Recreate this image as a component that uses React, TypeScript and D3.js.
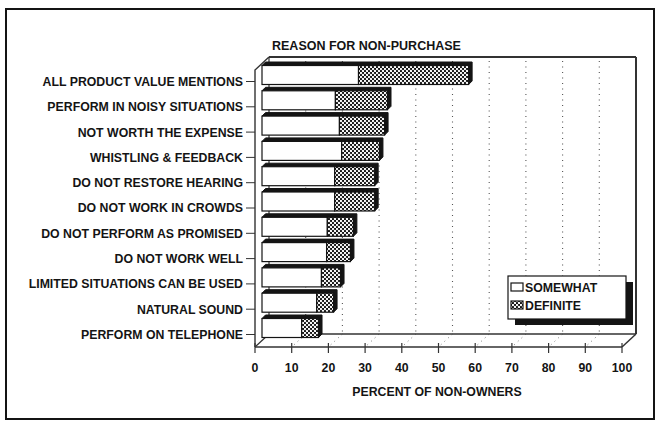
import React from "react";
import * as d3 from "d3";

const categories = [
  "ALL PRODUCT VALUE MENTIONS",
  "PERFORM IN NOISY SITUATIONS",
  "NOT WORTH THE EXPENSE",
  "WHISTLING & FEEDBACK",
  "DO NOT RESTORE HEARING",
  "DO NOT WORK IN CROWDS",
  "DO NOT PERFORM AS PROMISED",
  "DO NOT WORK WELL",
  "LIMITED SITUATIONS CAN BE USED",
  "NATURAL SOUND",
  "PERFORM ON TELEPHONE",
];
const somewhat = [26.3, 20, 21.1, 21.7, 19.8, 19.8, 17.8, 17.6, 16.2, 14.9, 10.8];
const definite = [30, 14.2, 12.3, 10.3, 10.9, 10.9, 7.1, 6.5, 5.2, 4.6, 4.6];
const xTicks = [0, 10, 20, 30, 40, 50, 60, 70, 80, 90, 100];
const seriesNames = ["SOMEWHAT", "DEFINITE"];
const title = "REASON FOR NON-PURCHASE";
const xTitle = "PERCENT OF NON-OWNERS";

const W = 657;
const H = 421;
const FONT = "'Liberation Sans', Arial, Helvetica, sans-serif";
const FS = 12.3;
const INK = "#141414";

export default function App() {
  const x = d3.scaleLinear().domain([0, 100]).range([255, 622]);
  const y = d3.scalePoint<string>().domain(categories).range([81.5, 334.5]);
  const floorY = 347;
  const DX = 14;
  const DY = -13;
  const backTop = 57;
  const backBottom = floorY + DY;
  const bdx = DX / 2;
  const bdy = DY / 2;
  const barH = 19;
  const ext = 3.5;

  const back0 = x(0) + DX;
  const back100 = x(100) + DX;

  const bars = categories.map((c, i) => {
    const cy = (y(c) as number) + bdy;
    const y0 = cy - barH / 2;
    const xs = x(0) + bdx;
    const xm = x(somewhat[i]) + bdx;
    const xe = x(somewhat[i] + definite[i]) + bdx;
    return { c, y0, xs, xm, xe };
  });

  return (
    <svg
      width={W}
      height={H}
      viewBox={`0 0 ${W} ${H}`}
      style={{ position: "absolute", left: 0, top: 0, background: "#fff" }}
    >
      <defs>
        <pattern id="chk" width={4} height={4} patternUnits="userSpaceOnUse">
          <rect width={4} height={4} fill={INK} />
          <circle cx={1} cy={1} r={1.15} fill="#fff" />
          <circle cx={3} cy={3} r={1.15} fill="#fff" />
        </pattern>
      </defs>

      {/* outer frame */}
      <rect x={6} y={9} width={648} height={410} fill="none" stroke={INK} strokeWidth={2} />

      {/* title */}
      <text x={272} y={50} fontFamily={FONT} fontSize={12.5} fontWeight="bold" fill={INK}>
        {title}
      </text>

      {/* back plane gridlines */}
      {xTicks.slice(1, -1).map((t) => (
        <line
          key={"g" + t}
          x1={x(t) + DX}
          x2={x(t) + DX}
          y1={backTop + 4}
          y2={backBottom}
          stroke="#555"
          strokeWidth={1.1}
          strokeDasharray="1,4.5"
        />
      ))}
      {/* floor dotted lines */}
      {xTicks.slice(1, -1).map((t) => (
        <line
          key={"f" + t}
          x1={x(t) + DX}
          x2={x(t)}
          y1={backBottom}
          y2={floorY}
          stroke="#777"
          strokeWidth={1}
          strokeDasharray="1,4"
        />
      ))}

      {/* back plane edges */}
      <line x1={back0} x2={back100} y1={backTop} y2={backTop} stroke="#333" strokeWidth={1.8} />
      <line x1={back100} x2={back100} y1={backTop} y2={backBottom} stroke="#333" strokeWidth={2} />
      <line x1={back0} x2={back0} y1={backTop} y2={backBottom} stroke="#333" strokeWidth={1.2} />
      <line x1={back0} x2={back100} y1={backBottom} y2={backBottom} stroke="#333" strokeWidth={1.4} />
      {/* left wall */}
      <polyline
        points={`${x(0)},${floorY} ${x(0)},${backTop - DY} ${back0},${backTop}`}
        fill="none"
        stroke="#333"
        strokeWidth={1.4}
      />
      <line x1={x(0)} x2={back0} y1={floorY} y2={backBottom} stroke="#333" strokeWidth={1.2} />
      {/* floor front + right */}
      <line x1={x(0)} x2={x(100)} y1={floorY} y2={floorY} stroke="#333" strokeWidth={1.5} />
      <line x1={x(100)} x2={back100} y1={floorY} y2={backBottom} stroke="#333" strokeWidth={1.5} />

      {/* x ticks and labels */}
      {xTicks.map((t) => (
        <g key={"t" + t}>
          <line x1={x(t)} x2={x(t)} y1={floorY - 4} y2={floorY + 6} stroke="#333" strokeWidth={1.2} />
          <text
            x={x(t)}
            y={371.5}
            textAnchor="middle"
            fontFamily={FONT}
            fontSize={FS}
            fontWeight="bold"
            fill={INK}
          >
            {t}
          </text>
        </g>
      ))}
      <text
        x={437}
        y={395.5}
        textAnchor="middle"
        fontFamily={FONT}
        fontSize={FS}
        fontWeight="bold"
        fill={INK}
      >
        {xTitle}
      </text>

      {/* category labels and ticks */}
      {categories.map((c) => (
        <g key={"c" + c}>
          <line x1={246} x2={x(0)} y1={y(c)} y2={y(c)} stroke="#333" strokeWidth={1} />
          <text
            x={243}
            y={(y(c) as number) + 4.4}
            textAnchor="end"
            fontFamily={FONT}
            fontSize={FS}
            fontWeight="bold"
            fill={INK}
          >
            {c}
          </text>
        </g>
      ))}

      {/* bars */}
      {bars.map((b) => {
        const y1 = b.y0 + barH;
        return (
          <g key={"b" + b.c}>
            <polygon
              points={`${b.xs},${b.y0} ${b.xs + ext},${b.y0 - ext} ${b.xe + ext},${b.y0 - ext} ${b.xe + ext},${y1 - ext} ${b.xe},${y1} ${b.xe},${b.y0}`}
              fill={INK}
              stroke={INK}
              strokeWidth={1}
              strokeLinejoin="round"
            />
            <rect x={b.xs} y={b.y0} width={b.xm - b.xs} height={barH} fill="#fff" stroke={INK} strokeWidth={1.2} />
            <rect x={b.xm} y={b.y0} width={b.xe - b.xm} height={barH} fill="url(#chk)" stroke={INK} strokeWidth={1.2} />
          </g>
        );
      })}

      {/* legend */}
      <rect x={515} y={282} width={118} height={43} fill={INK} />
      <rect x={508} y={276} width={118} height={43} fill="#fff" stroke={INK} strokeWidth={1.2} />
      <rect x={511} y={283} width={12} height={8} fill="#fff" stroke={INK} strokeWidth={1.2} />
      <text x={525} y={291.5} fontFamily={FONT} fontSize={FS} fontWeight="bold" fill={INK}>
        {seriesNames[0]}
      </text>
      <rect x={511} y={301} width={12} height={8} fill="url(#chk)" stroke={INK} strokeWidth={1.2} />
      <text x={525} y={310} fontFamily={FONT} fontSize={FS} fontWeight="bold" fill={INK}>
        {seriesNames[1]}
      </text>
    </svg>
  );
}
